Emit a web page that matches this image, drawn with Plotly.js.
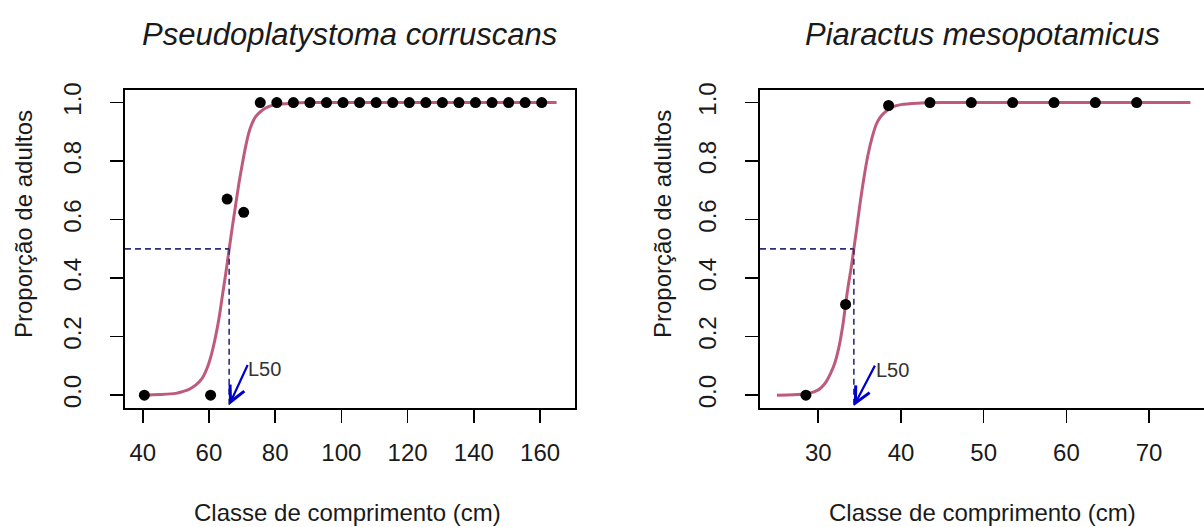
<!DOCTYPE html>
<html>
<head>
<meta charset="utf-8">
<script src="https://cdn.plot.ly/plotly-3.0.1.min.js"></script>
<style>html,body{margin:0;padding:0;background:#fff;}#chart{width:1204px;height:527px;}</style>
</head>
<body>
<div id="chart"></div>
<script>
// ---- Data ----
const titles = ["Pseudoplatystoma corruscans", "Piaractus mesopotamicus"];
const xTitle = "Classe de comprimento (cm)";
const yTitle = "Proporção de adultos";

// Pseudoplatystoma corruscans: observed proportions
const pcLength = [40.5, 60.5, 65.5, 70.5, 75.5, 80.5, 85.5, 90.5, 95.5, 100.5, 105.5, 110.5, 115.5, 120.5, 125.5, 130.5, 135.5, 140.5, 145.5, 150.5, 155.5, 160.5];
const pcProp   = [0, 0, 0.67, 0.625, 1, 1, 1, 1, 1, 1, 1, 1, 1, 1, 1, 1, 1, 1, 1, 1, 1, 1];
// fitted curve
const pcCurveX = [40, 45, 50, 52, 54, 56, 58, 59, 60, 61, 62, 63, 64, 65, 66, 67, 68, 69, 70, 71, 72, 73, 74, 75, 76, 78, 80, 85, 90, 100, 165];
const pcCurveY = [0.000, 0.002, 0.006, 0.012, 0.02, 0.034, 0.058, 0.08, 0.11, 0.15, 0.20, 0.26, 0.335, 0.41, 0.49, 0.57, 0.645, 0.72, 0.785, 0.845, 0.895, 0.928, 0.95, 0.963, 0.973, 0.986, 0.993, 0.998, 1.0, 1.0, 1.0];

// Piaractus mesopotamicus: observed proportions
const pmLength = [28.5, 33.3, 38.5, 43.5, 48.5, 53.5, 58.5, 63.5, 68.5];
const pmProp   = [0, 0.31, 0.99, 1, 1, 1, 1, 1, 1];
const pmCurveX = [25, 27, 28, 29, 30, 30.5, 31, 31.5, 32, 32.5, 33, 33.3, 33.6, 34, 34.3, 34.6, 35, 35.5, 36, 36.5, 37, 37.5, 38, 39, 40, 42, 45, 75];
const pmCurveY = [0.000, 0.001, 0.003, 0.007, 0.018, 0.03, 0.048, 0.075, 0.11, 0.165, 0.245, 0.31, 0.37, 0.44, 0.5, 0.56, 0.645, 0.74, 0.82, 0.88, 0.925, 0.95, 0.966, 0.985, 0.993, 0.998, 1.0, 1.0];

// L50 values and label/arrow positions
const l50      = [66.1, 34.3];
const l50Prop  = [0.5, 0.5];
const arrowTailX = [71.9, 36.94];
const arrowTailY = [0.108, 0.106];
const arrowHeadY = [-0.034, -0.037];
const labelY     = [0.091, 0.087];

// axis settings
const xRanges = [[34.65, 170.55], [22.95, 76.64]];
const yRange = [-0.044, 1.043];
const xTicks = [[40, 60, 80, 100, 120, 140, 160], [30, 40, 50, 60, 70]];
const yTicks = [0, 0.2, 0.4, 0.6, 0.8, 1.0];

// ---- Styling ----
const FONT = "Liberation Sans, Arial, sans-serif";
const textColor = "#1a1a1a";
const curveColor = "#BF5B7A";
const dashColor = "#2E2E78";
const arrowColor = "#0000CD";

const traces = [];
const series = [
  {px: pcLength, py: pcProp, cx: pcCurveX, cy: pcCurveY},
  {px: pmLength, py: pmProp, cx: pmCurveX, cy: pmCurveY}
];
series.forEach((s, i) => {
  const xa = i === 0 ? "x" : "x2";
  const ya = i === 0 ? "y" : "y2";
  traces.push({x: s.cx, y: s.cy, xaxis: xa, yaxis: ya, type: "scatter", mode: "lines",
    line: {color: curveColor, width: 3, shape: "spline", smoothing: 0.8}, hoverinfo: "skip", showlegend: false});
  traces.push({x: s.px, y: s.py, xaxis: xa, yaxis: ya, type: "scatter", mode: "markers",
    marker: {color: "#000", size: 11}, hoverinfo: "x+y", showlegend: false});
});

function xAxis(i, domain) {
  return {domain: domain, range: xRanges[i], tickvals: xTicks[i], ticktext: xTicks[i].map(String),
    showline: true, mirror: true, linecolor: "#000", linewidth: 1.6,
    ticks: "outside", ticklen: 13, tickwidth: 1.6, tickcolor: "#000",
    showgrid: false, zeroline: false, ticklabelstandoff: 10,
    tickfont: {family: FONT, size: 24, color: textColor}, anchor: i === 0 ? "y" : "y2", fixedrange: true};
}
function yAxis(i) {
  return {domain: [0, 1], range: yRange, tickvals: yTicks, tickformat: ".1f",
    showline: true, mirror: i === 0, linecolor: "#000", linewidth: 1.6,
    ticks: "outside", ticklen: 13, tickwidth: 1.6, tickcolor: "#000",
    showgrid: false, zeroline: false, tickangle: -90, ticklabelstandoff: 20,
    tickfont: {family: FONT, size: 24, color: textColor}, anchor: i === 0 ? "x" : "x2", fixedrange: true};
}

const domains = [[0, 0.41705], [0.5885, 1]];
const shapes = [];
const annotations = [];
[0, 1].forEach(i => {
  const xr = i === 0 ? "x" : "x2";
  const yr = i === 0 ? "y" : "y2";
  // dashed guide lines
  shapes.push({type: "line", xref: xr, yref: yr, x0: xRanges[i][0], x1: l50[i], y0: l50Prop[i], y1: l50Prop[i],
    line: {color: dashColor, width: 1.6, dash: "6px,4px"}});
  shapes.push({type: "line", xref: xr, yref: yr, x0: l50[i], x1: l50[i], y0: l50Prop[i], y1: yRange[0],
    line: {color: dashColor, width: 1.6, dash: "6px,4px"}});
  // arrow
  annotations.push({xref: xr, yref: yr, axref: xr, ayref: yr, x: l50[i], y: arrowHeadY[i],
    ax: arrowTailX[i], ay: arrowTailY[i], text: "", showarrow: true, arrowhead: 5, arrowsize: 1.4,
    arrowwidth: 2.2, arrowcolor: arrowColor, standoff: 0, startstandoff: 0});
  annotations.push({xref: xr, yref: yr, x: arrowTailX[i], xshift: -2, y: labelY[i], text: "L50",
    xanchor: "left", yanchor: "middle", showarrow: false, font: {family: FONT, size: 20, color: "#333"}});
  // titles
  const dc = (domains[i][0] + domains[i][1]) / 2;
  annotations.push({xref: "paper", yref: "paper", x: i === 0 ? dc : 0.795, y: 1.176, text: "<i>" + titles[i] + "</i>",
    xanchor: "center", yanchor: "middle", showarrow: false, font: {family: FONT, size: 31, color: textColor}});
  annotations.push({xref: "paper", yref: "paper", x: i === 0 ? 0.2066 : 0.795, y: -0.33, text: xTitle,
    xanchor: "center", yanchor: "middle", showarrow: false, font: {family: FONT, size: 24, color: textColor}});
  annotations.push({xref: "paper", yref: "paper", x: i === 0 ? -0.0945 : 0.4977, y: 0.5786, text: yTitle, textangle: -90,
    xanchor: "center", yanchor: "middle", showarrow: false, font: {family: FONT, size: 24, color: textColor}});
});

const layout = {
  width: 1204, height: 527,
  margin: {l: 125, r: 0, t: 90, b: 119, pad: 0},
  paper_bgcolor: "#fff", plot_bgcolor: "#fff",
  font: {family: FONT, color: textColor},
  showlegend: false,
  xaxis: xAxis(0, domains[0]), yaxis: yAxis(0),
  xaxis2: xAxis(1, domains[1]), yaxis2: yAxis(1),
  shapes: shapes, annotations: annotations
};

Plotly.newPlot("chart", traces, layout, {staticPlot: true, displayModeBar: false});
</script>
</body>
</html>
